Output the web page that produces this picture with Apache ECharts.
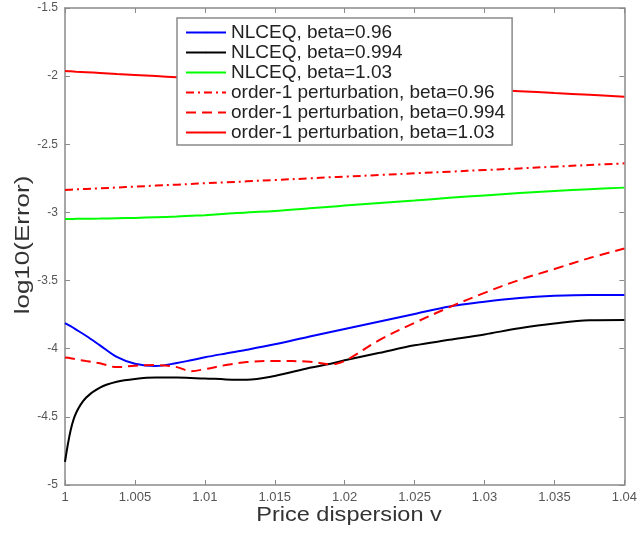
<!DOCTYPE html>
<html>
<head>
<meta charset="utf-8">
<script src="https://cdn.jsdelivr.net/npm/echarts@6/dist/echarts.min.js"></script>
<style>
    html, body { margin: 0; padding: 0; background: #fff; }
    #chart { width: 640px; height: 534px; }
</style>
</head>
<body>
<div id="chart"></div>
<script>
// x 采样点 (Price dispersion v)
var xs = [1, 1.0004, 1.0008, 1.0015, 1.0025, 1.0037, 1.005, 1.0065, 1.008, 1.009, 1.01, 1.0115, 1.013,
    1.015, 1.0175, 1.019, 1.02, 1.0225, 1.025, 1.0275, 1.03, 1.0325, 1.035, 1.0375, 1.04];

// NLCEQ
var nlceq096 = [-3.813, -3.835, -3.86, -3.905, -3.975, -4.06, -4.11, -4.127, -4.105, -4.085, -4.063, -4.035, -4.008,
    -3.968, -3.91, -3.877, -3.855, -3.8, -3.745, -3.69, -3.655, -3.628, -3.612, -3.605, -3.605];
var nlceq0994 = [-4.83, -4.6, -4.47, -4.36, -4.285, -4.243, -4.222, -4.212, -4.212, -4.215, -4.218, -4.225, -4.228,
    -4.2, -4.14, -4.11, -4.085, -4.03, -3.975, -3.935, -3.895, -3.85, -3.815, -3.792, -3.79];
var nlceq103 = [-3.048, -3.048, -3.047, -3.046, -3.045, -3.043, -3.04, -3.035, -3.03, -3.025, -3.02, -3.01, -3.0,
    -2.99, -2.97, -2.958, -2.95, -2.93, -2.912, -2.893, -2.875, -2.858, -2.843, -2.83, -2.818];

// order-1 perturbation
var pert096 = [-2.835, -2.833, -2.831, -2.828, -2.823, -2.817, -2.811, -2.803, -2.796, -2.791, -2.786, -2.779, -2.772,
    -2.762, -2.75, -2.742, -2.738, -2.725, -2.713, -2.701, -2.689, -2.677, -2.664, -2.652, -2.64];
var pert0994 = [-4.065, -4.07, -4.078, -4.09, -4.107, -4.135, -4.125, -4.12, -4.135, -4.165, -4.15, -4.12, -4.098,
    -4.09, -4.095, -4.115, -4.09, -3.935, -3.81, -3.695, -3.59, -3.495, -3.415, -3.335, -3.265];
var pert103 = [-1.962, -1.964, -1.967, -1.971, -1.977, -1.984, -1.991, -1.999, -2.008, -2.012, -2.016, -2.023, -2.029,
    -2.037, -2.048, -2.054, -2.058, -2.068, -2.079, -2.089, -2.099, -2.11, -2.124, -2.137, -2.151];

var names = ['NLCEQ, beta=0.96', 'NLCEQ, beta=0.994', 'NLCEQ, beta=1.03',
    'order-1 perturbation, beta=0.96', 'order-1 perturbation, beta=0.994', 'order-1 perturbation, beta=1.03'];

var font = 'Liberation Sans, Arial, Helvetica, sans-serif';
var axisGray = '#8a8a8a';

function pairs(ys) {
    return xs.map(function (x, i) { return [x, ys[i]]; });
}

function mkSeries(name, ys, color, type) {
    return {
        name: name,
        type: 'line',
        data: pairs(ys),
        smooth: 0.35,
        symbol: 'none',
        showSymbol: false,
        lineStyle: { color: color, width: 2, type: type || 'solid' },
        itemStyle: { color: color },
        z: 3
    };
}

var frameX = {
    type: 'value', min: 1, max: 1.04, interval: 0.005,
    axisLine: { show: true, lineStyle: { color: axisGray, width: 1.5 } },
    axisTick: { show: true, inside: true, length: 5, lineStyle: { color: axisGray } },
    splitLine: { show: false }
};
var frameY = {
    type: 'value', min: -5, max: -1.5, interval: 0.5,
    axisLine: { show: true, lineStyle: { color: axisGray, width: 1.5 } },
    axisTick: { show: true, inside: true, length: 5, lineStyle: { color: axisGray } },
    splitLine: { show: false }
};

var myChart = echarts.init(document.getElementById('chart'));

var option = {
    backgroundColor: '#fff',
    animation: false,
    grid: { left: 65, top: 8, right: 13, bottom: 49 },
    legend: {
        data: names,
        orient: 'vertical',
        left: 177,
        top: 18,
        padding: [5, 7, 3, 8],
        itemWidth: 40,
        itemHeight: 2,
        itemGap: 1,
        backgroundColor: '#fff',
        borderColor: axisGray,
        borderWidth: 1.5,
        borderRadius: 0,
        textStyle: { fontFamily: font, fontSize: 19, color: '#222', lineHeight: 19, padding: [0, 0, 0, 0] }
    },
    // 坐标轴标题 (拉伸以贴合原图字形)
    graphic: [
        {
            type: 'text', x: 349, y: 515, scaleX: 1.12,
            style: { text: 'Price dispersion v', font: '21px ' + font, fill: '#333', align: 'center', verticalAlign: 'middle' }
        },
        {
            type: 'text', x: 23, y: 245, rotation: Math.PI / 2, scaleX: 1.3,
            style: { text: 'log10(Error)', font: '20px ' + font, fill: '#333', align: 'center', verticalAlign: 'middle' }
        }
    ],
    xAxis: [
        Object.assign({}, frameX, {
            position: 'bottom',
            axisLabel: { show: true, margin: 6, fontFamily: font, fontSize: 13, color: '#555' }
        }),
        Object.assign({}, frameX, { position: 'top', axisLabel: { show: false } })
    ],
    yAxis: [
        Object.assign({}, frameY, {
            position: 'left',
            axisLabel: { show: true, margin: 7, fontFamily: font, fontSize: 12, color: '#555' }
        }),
        Object.assign({}, frameY, { position: 'right', axisLabel: { show: false } })
    ],
    series: [
        mkSeries(names[0], nlceq096, '#0000ff'),
        mkSeries(names[1], nlceq0994, '#000000'),
        mkSeries(names[2], nlceq103, '#00ff00'),
        mkSeries(names[3], pert096, '#ff0000', [8, 4, 2, 4]),
        mkSeries(names[4], pert0994, '#ff0000', [10, 6]),
        mkSeries(names[5], pert103, '#ff0000')
    ]
};

myChart.setOption(option);
</script>
</body>
</html>
